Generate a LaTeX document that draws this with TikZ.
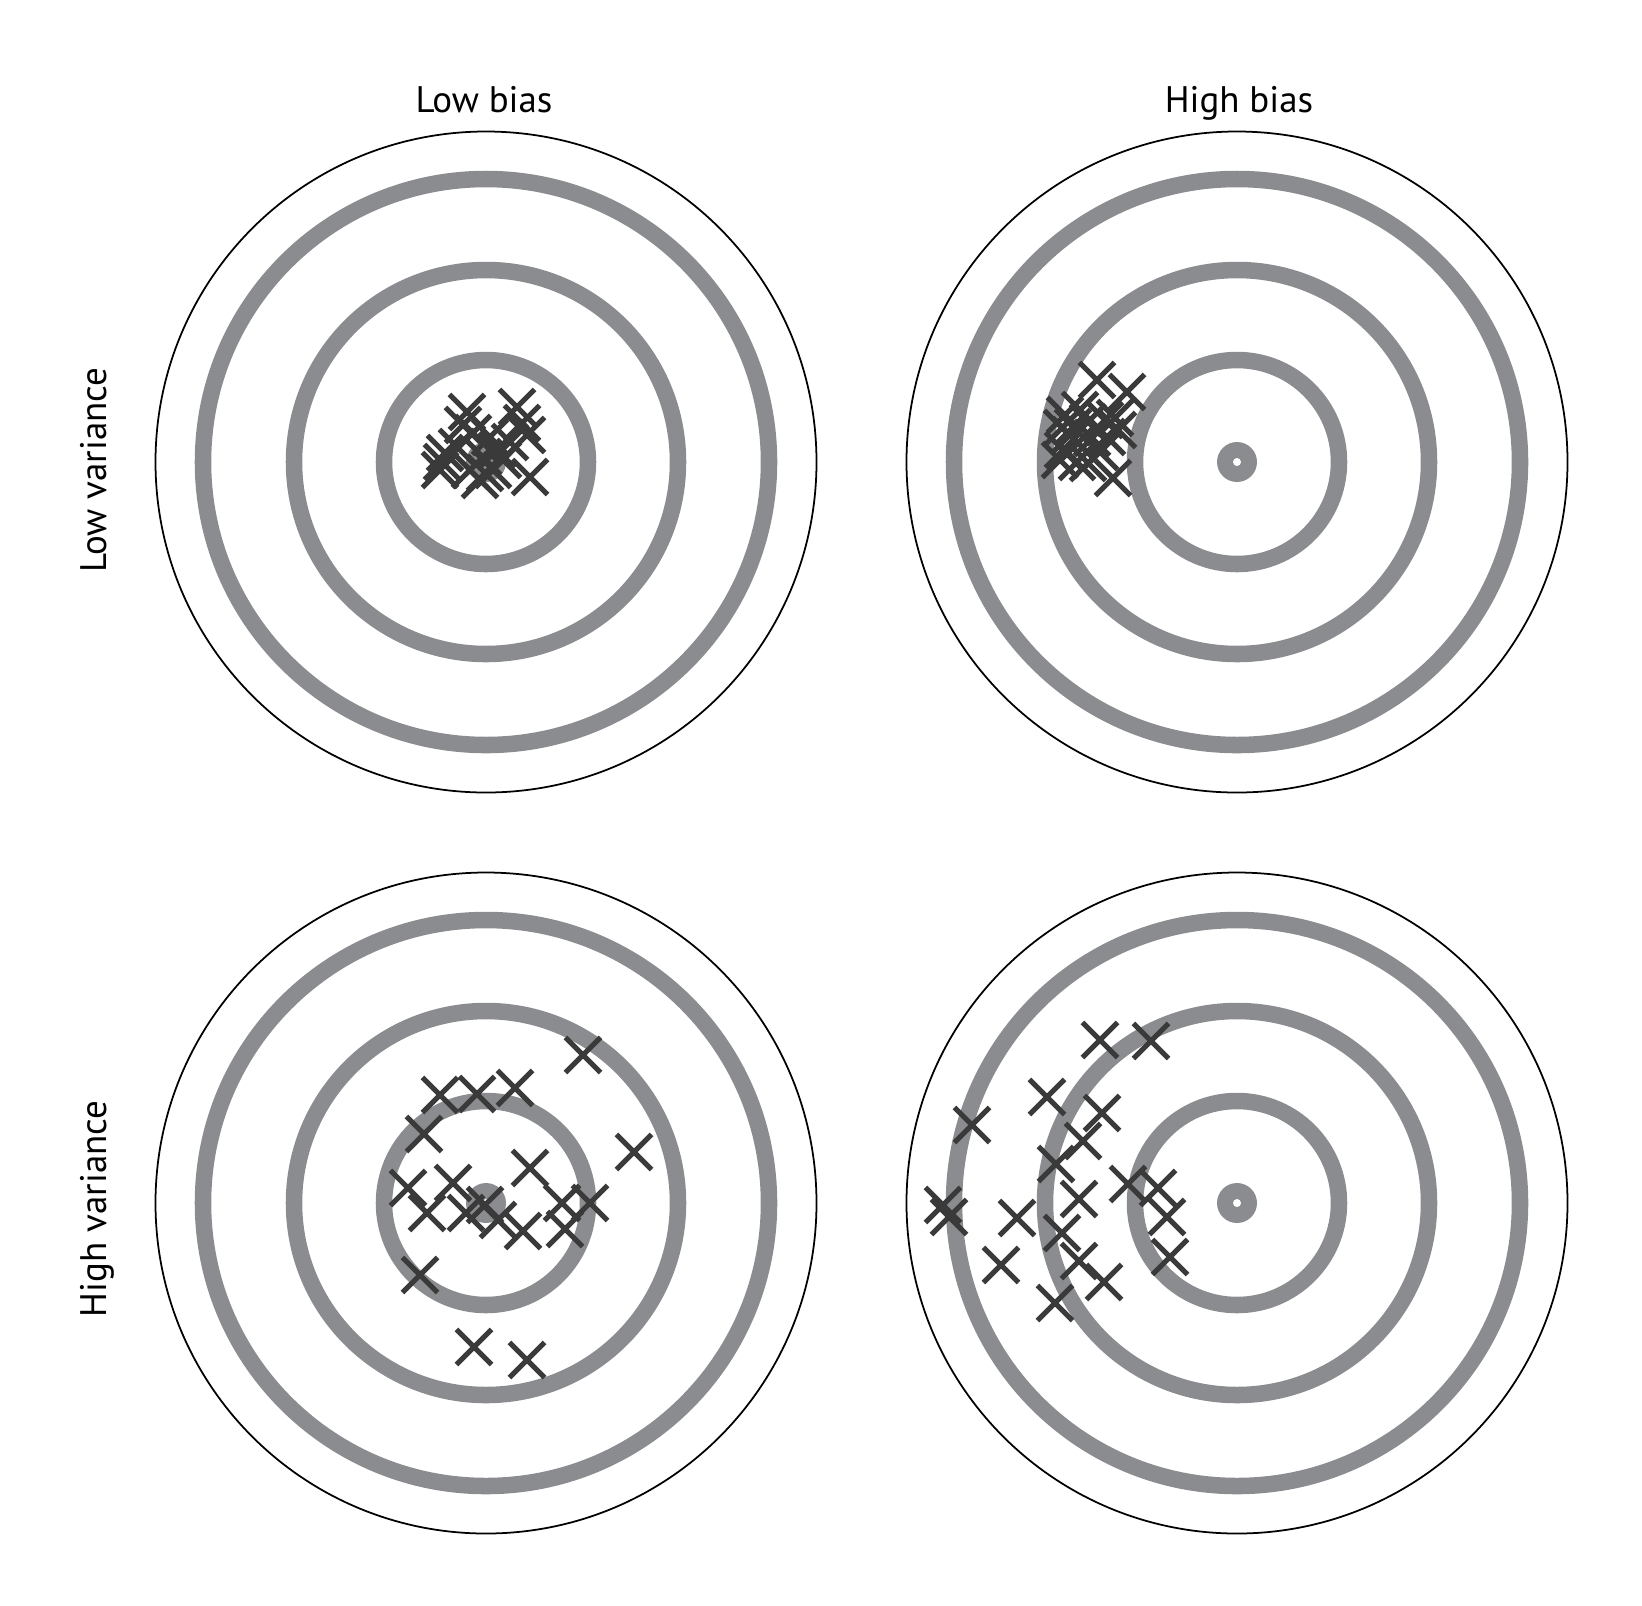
\documentclass[tikz,border=0pt]{standalone}
\usepackage{fontspec}
\setmainfont{PT Sans}
\usepackage{tikz}
\usetikzlibrary{shapes.misc}
\usepackage{xcolor}
\definecolor{target-ring}{HTML}{8B8C8F}
\definecolor{shot-dark}{HTML}{3A3A3A}

\begin{document}
\begin{tikzpicture}[x=0.01cm,y=-0.01cm]
  \tikzstyle{rim}=[draw=black,line width=0.5pt]
  \tikzstyle{ring}=[draw=target-ring,line width=4.7pt]
  \tikzstyle{shot}=[cross out,draw=shot-dark,line width=1.45pt,minimum size=0.3cm,inner sep=0pt]
  \tikzstyle{heading}=[font=\fontsize{10.5}{12.5}\selectfont,anchor=base]

  \useasboundingbox (0,0) rectangle (1642,1605);

  \coordinate (tl) at (486,462);
  \coordinate (tr) at (1237,462);
  \coordinate (bl) at (486,1203);
  \coordinate (br) at (1237,1203);

  %% targets
  \foreach \c in {tl,tr,bl,br} {
    \draw[rim] (\c) circle[radius=330.5];
    \foreach \r in {102,192,283}
      \draw[ring] (\c) circle[radius=\r];
    \fill[target-ring] (\c) circle[radius=20];
    \fill[white] (\c) circle[radius=4];
  }

  %% labels
  \node[heading]           (lowbias)  at (484,112)  {Low bias};
  \node[heading]           (highbias) at (1239,112) {High bias};
  \node[heading,rotate=90] (lowvar)   at (106,470)  {Low variance};
  \node[heading,rotate=90] (highvar)  at (106,1209) {High variance};

  %% low bias, low variance
  \foreach \p [count=\i] in {(467,412),(463,425),(473,433),(517,407),(522,423),
      (527,435),(510,442),(442,462),(440,470),(445,453),(457,447),(483,457),
      (485,473),(480,480),(493,470),(503,460),(530,477),(470,470),(497,450),(490,437)}
    \node[shot] (tl\i) at \p {};

  %% high bias, low variance
  \foreach \p [count=\i] in {(1097,380),(1127,392),(1065,415),(1080,410),(1062,428),
      (1073,427),(1088,422),(1105,420),(1118,430),(1115,418),(1063,450),(1078,443),
      (1092,438),(1107,437),(1060,460),(1077,462),(1088,463),(1100,452),(1113,478),(1070,435)}
    \node[shot] (tr\i) at \p {};

  %% low bias, high variance
  \foreach \p [count=\i] in {(583,1055),(440,1095),(477,1094),(515,1088),(424,1134),
      (634,1152),(530,1168),(408,1188),(453,1183),(427,1213),(466,1213),(485,1205),
      (498,1220),(523,1231),(562,1203),(590,1203),(565,1229),(420,1275),(474,1347),(527,1360)}
    \node[shot] (bl\i) at \p {};

  %% high bias, high variance
  \foreach \p [count=\i] in {(1100,1040),(1151,1041),(1047,1097),(1102,1113),(972,1125),
      (1083,1141),(1056,1164),(1128,1184),(1158,1188),(943,1205),(949,1217),(1079,1199),
      (1017,1218),(1167,1217),(1062,1233),(1079,1261),(1001,1265),(1170,1257),(1104,1282),(1055,1303)}
    \node[shot] (br\i) at \p {};
\end{tikzpicture}
\end{document}
